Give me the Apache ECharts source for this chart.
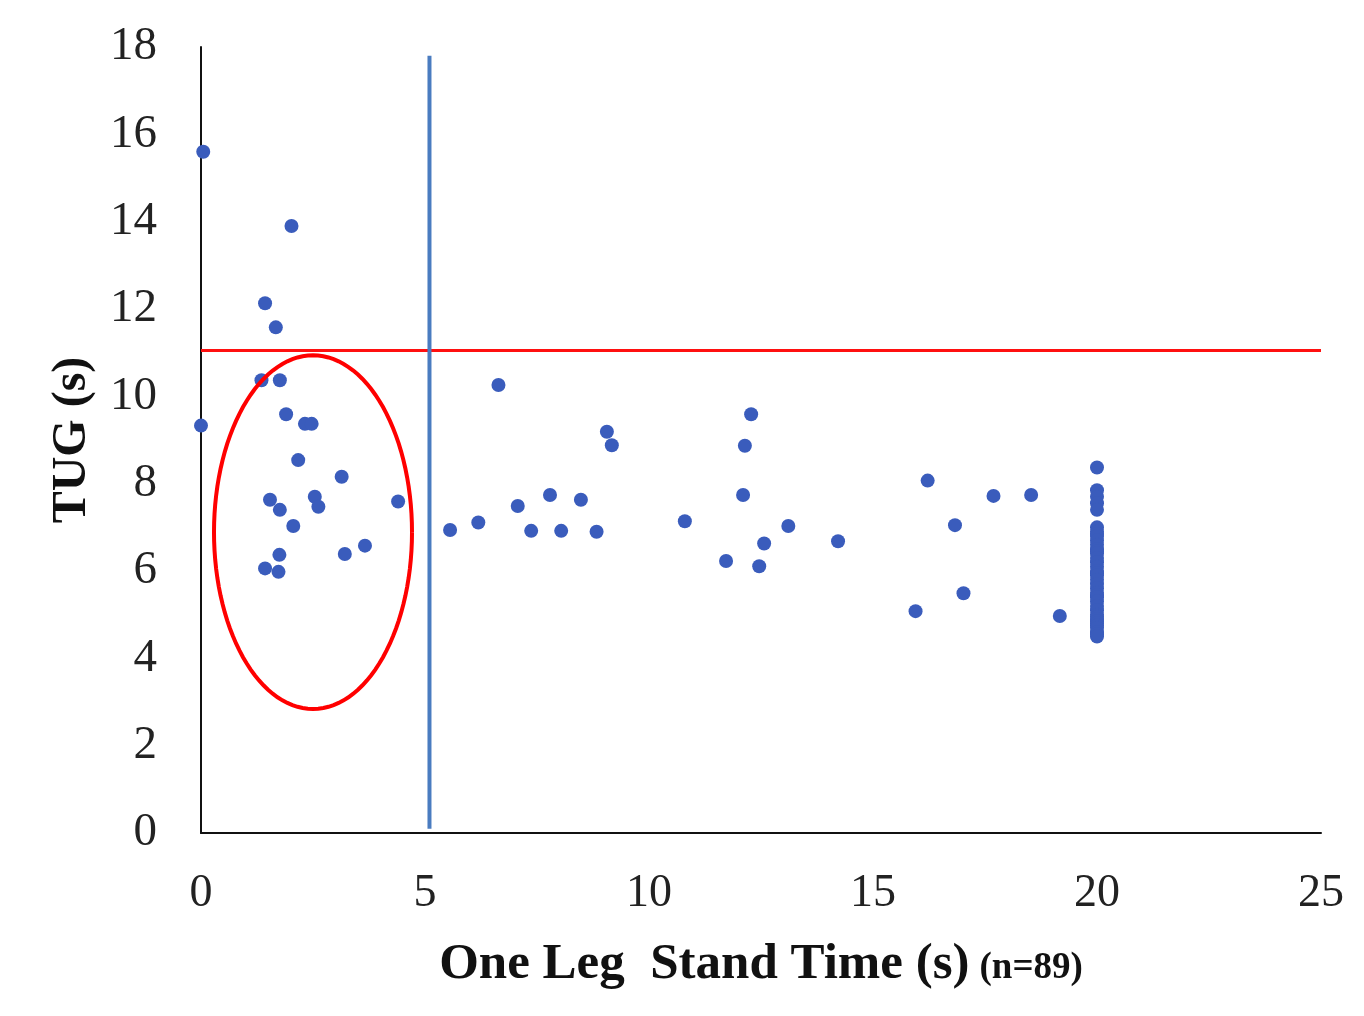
<!DOCTYPE html>
<html>
<head>
<meta charset="utf-8">
<script src="https://cdn.jsdelivr.net/npm/echarts@6/dist/echarts.min.js"></script>
<style>
html,body{margin:0;padding:0;background:#fff;}
#chart{width:1364px;height:1016px;}
</style>
</head>
<body>
<div id="chart"></div>
<script>
// One Leg Stand Time (s) vs TUG (s), n = 89
const olsLeft = [0.05, 2.02, 1.43, 1.67, 1.35, 1.76, 0.0, 1.90, 2.32, 2.47, 2.17, 3.14, 4.40, 1.54, 1.76, 2.54, 2.62, 2.06, 1.75, 1.43, 1.73, 3.21, 3.66];
const tugLeft = [15.6, 13.9, 12.13, 11.58, 10.37, 10.37, 9.33, 9.59, 9.37, 9.37, 8.54, 8.16, 7.59, 7.63, 7.40, 7.70, 7.47, 7.03, 6.37, 6.06, 5.98, 6.39, 6.58];

const olsMid = [6.64, 9.06, 9.17, 12.28, 12.14, 12.10, 5.56, 6.19, 7.07, 7.79, 8.48, 7.37, 8.04, 8.83, 10.80, 13.11, 12.57, 11.72, 12.46, 14.22];
const tugMid = [10.26, 9.19, 8.88, 9.59, 8.87, 7.74, 6.94, 7.11, 7.49, 7.74, 7.63, 6.92, 6.92, 6.90, 7.14, 7.03, 6.63, 6.23, 6.11, 6.68];

const olsRight = [16.22, 17.69, 18.53, 16.83, 15.95, 17.02, 19.17];
const tugRight = [8.07, 7.72, 7.74, 7.05, 5.08, 5.49, 4.97];

// participants who reached the 20 s cap
const ols20 = 20;
const tug20 = [8.37, 7.85, 7.7, 7.55, 7.4,
  7.0, 6.9, 6.85, 6.8, 6.7, 6.6, 6.5, 6.45, 6.4, 6.3, 6.2, 6.1, 6.0, 5.95, 5.9,
  5.8, 5.7, 5.6, 5.5, 5.45, 5.4, 5.3, 5.2, 5.1, 5.0, 4.95, 4.9, 4.85, 4.8, 4.75,
  4.7, 4.6, 4.55, 4.5];

// reference lines
const tugCutoff = 11.05;          // horizontal red line
const olsCutoff = 5.1;            // vertical blue line
const olsCutoffRange = [0.1, 17.8];
// highlighted ellipse (center x, center y, radius x, radius y in data units)
const ellipse = [2.5, 6.89, 2.21, 4.05];

const xTicks = [0, 5, 10, 15, 20, 25];
const yTicks = [0, 2, 4, 6, 8, 10, 12, 14, 16, 18];

const points = [];
olsLeft.forEach((x, i) => points.push([x, tugLeft[i]]));
olsMid.forEach((x, i) => points.push([x, tugMid[i]]));
olsRight.forEach((x, i) => points.push([x, tugRight[i]]));
tug20.forEach(y => points.push([ols20, y]));

const serif = '"Liberation Serif", "DejaVu Serif", serif';

const chart = echarts.init(document.getElementById('chart'));
chart.setOption({
  backgroundColor: '#ffffff',
  animation: false,
  grid: { left: 201, right: 43, top: 47, bottom: 183, containLabel: false },
  xAxis: {
    type: 'value', min: xTicks[0], max: xTicks[xTicks.length - 1], interval: 5,
    name: '{a|One Leg  Stand Time (s)}   {b|(n=89)}',
    nameLocation: 'middle', nameGap: 106,
    nameTextStyle: {
      rich: {
        a: { fontFamily: serif, fontWeight: 'bold', fontSize: 51, color: '#111' },
        b: { fontFamily: serif, fontWeight: 'bold', fontSize: 37, color: '#111', padding: [8, 0, 0, 0] }
      }
    },
    axisLine: { show: true, lineStyle: { color: '#111', width: 2 } },
    axisTick: { show: false },
    splitLine: { show: false },
    axisLabel: { fontFamily: serif, fontSize: 46, color: '#222', margin: 38 }
  },
  yAxis: {
    type: 'value', min: yTicks[0], max: yTicks[yTicks.length - 1], interval: 2,
    name: 'TUG (s)', nameLocation: 'middle', nameGap: 104, nameRotate: 90,
    nameTextStyle: { fontFamily: serif, fontWeight: 'bold', fontSize: 48, color: '#111' },
    axisLine: { show: true, lineStyle: { color: '#111', width: 2 } },
    axisTick: { show: false },
    splitLine: { show: false },
    axisLabel: { fontFamily: serif, fontSize: 47, color: '#222', margin: 44 }
  },
  series: [
    {
      type: 'scatter', data: points, symbolSize: 14,
      itemStyle: { color: '#3a5cbc', opacity: 1 }, z: 3
    },
    {
      type: 'line', data: [[xTicks[0], tugCutoff], [xTicks[xTicks.length - 1], tugCutoff]],
      symbol: 'none', lineStyle: { color: '#ff1010', width: 3 }, z: 4
    },
    {
      type: 'line', data: [[olsCutoff, olsCutoffRange[0]], [olsCutoff, olsCutoffRange[1]]],
      symbol: 'none', lineStyle: { color: '#4a7cc0', width: 4 }, z: 4
    },
    {
      type: 'custom', data: [ellipse], z: 5, silent: true,
      renderItem: function (params, api) {
        const cx = api.value(0), cy = api.value(1), rx = api.value(2), ry = api.value(3);
        const pts = [];
        for (let k = 0; k <= 120; k++) {
          const t = k / 120 * Math.PI * 2;
          pts.push(api.coord([cx + rx * Math.cos(t), cy + ry * Math.sin(t)]));
        }
        return {
          type: 'polyline',
          shape: { points: pts },
          style: { stroke: '#ff0000', lineWidth: 4, fill: null }
        };
      }
    }
  ]
});
</script>
</body>
</html>
